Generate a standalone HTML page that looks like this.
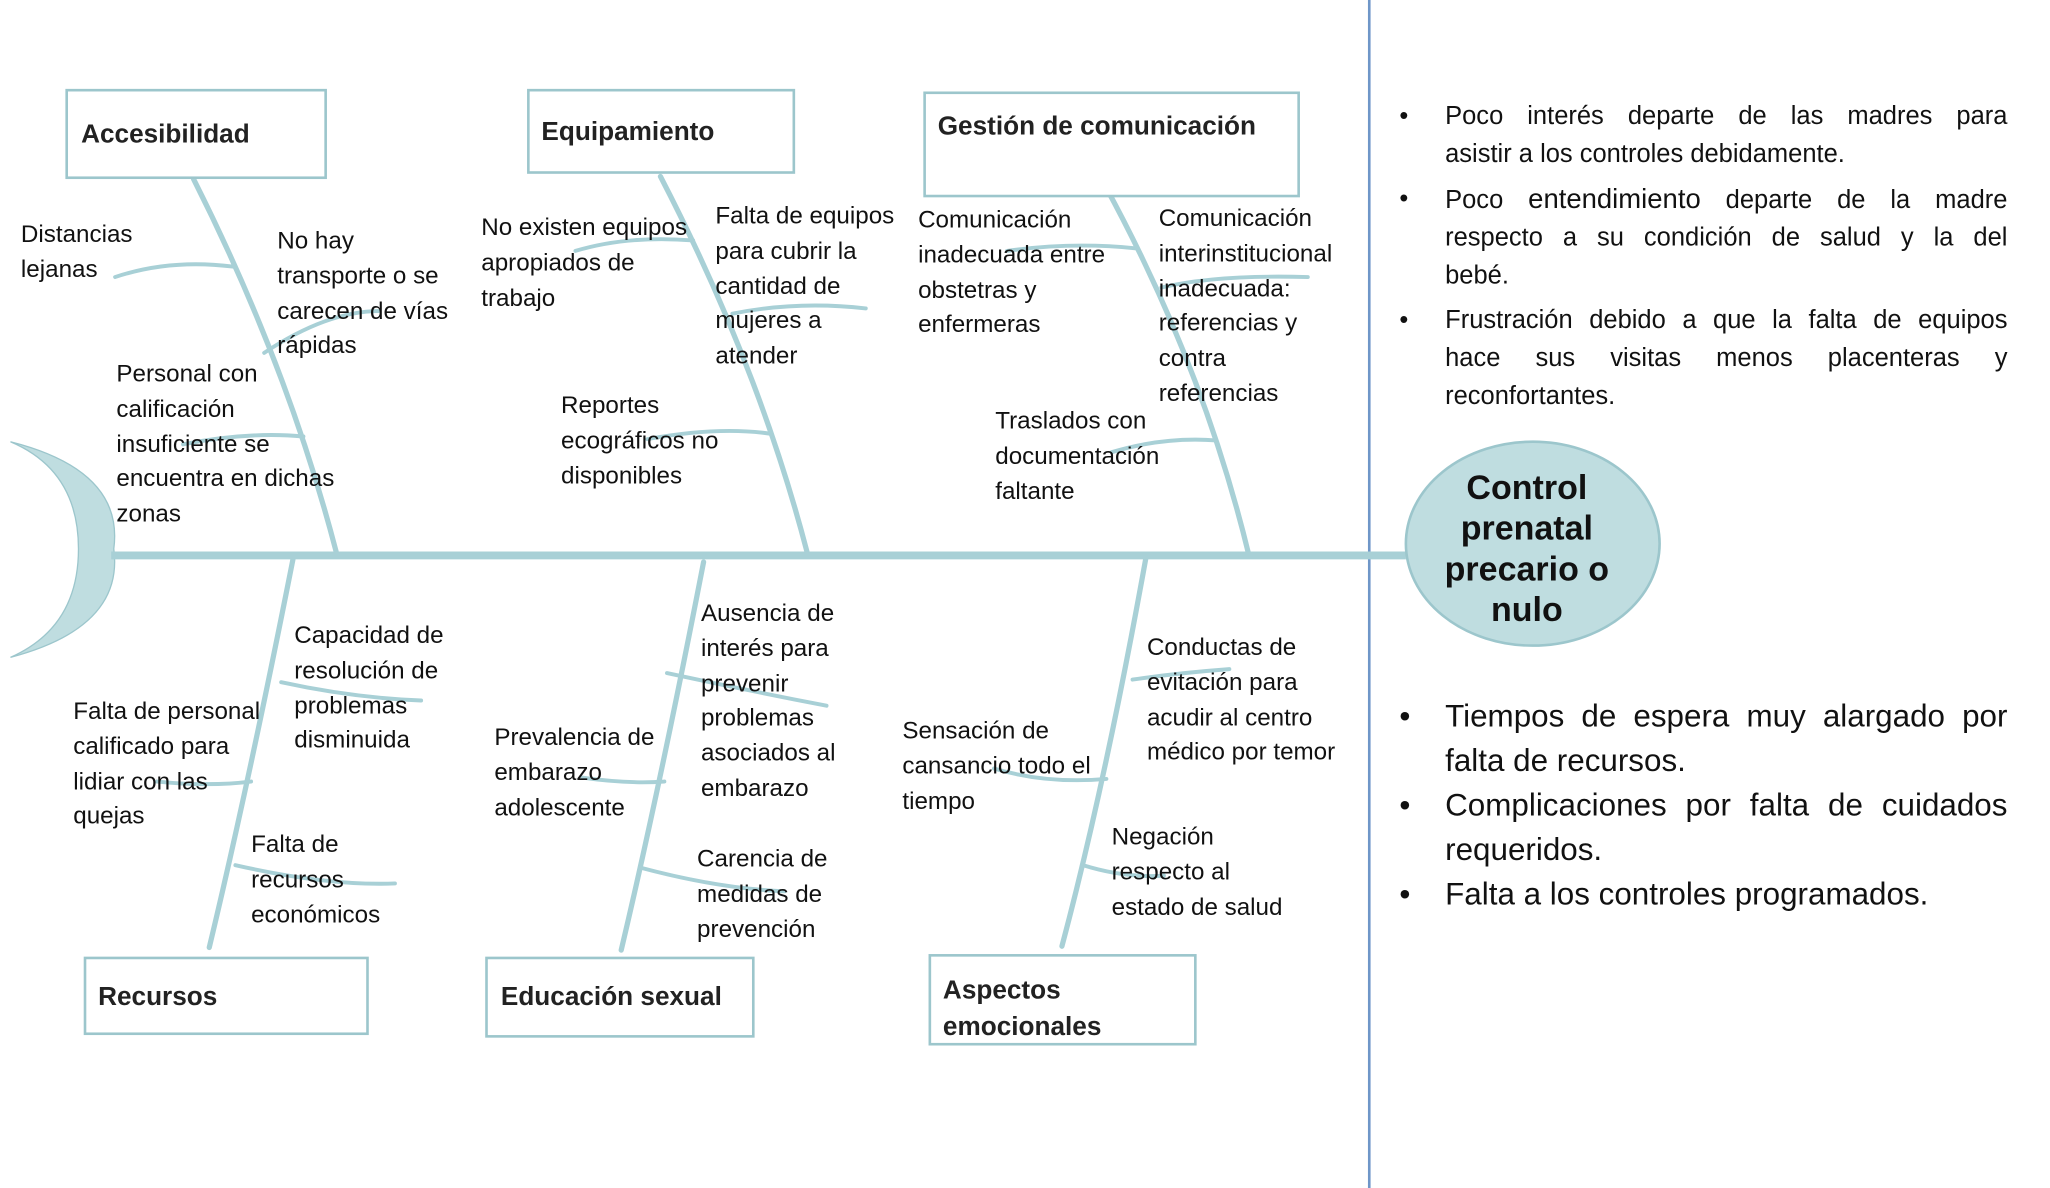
<!DOCTYPE html>
<html><head><meta charset="utf-8"><style>
html,body{margin:0;padding:0;background:#fff;overflow:hidden}
#wrap{position:absolute;left:0;top:0;width:1568px;height:909px;transform:scale(1.3078,1.3069);transform-origin:0 0;font-family:"Liberation Sans",sans-serif;color:#111}
.t{position:absolute;font-size:18.5px;line-height:26.8px;white-space:nowrap}
.b{position:absolute;font-size:20px;font-weight:bold;color:#222}
.r{position:absolute;left:1070px;width:465px;font-size:19.5px;line-height:29px}
.r>div{position:relative;padding-left:35px}
.r>div:before{content:"•";position:absolute;left:0}
.j{text-align:justify;text-align-last:justify;white-space:nowrap}
.r2{font-size:24px;line-height:34px}
.r2>div{text-align:justify}
</style></head><body><div id="wrap">
<svg width="1568" height="909" style="position:absolute;left:0;top:0">
<line x1="1047" y1="0" x2="1047" y2="909" stroke="#6f96c8" stroke-width="2"/>
<path d="M8,338 Q95,360 87,420 Q95,480 8,503 Q60,480 60,420 Q60,360 8,338Z" fill="#bfdde0" stroke="#9cc6cc"/>
<line x1="85" y1="425" x2="1075" y2="425" stroke="#a8d0d6" stroke-width="6"/>
<ellipse cx="1172" cy="416" rx="97" ry="78" fill="#bfdde0" stroke="#9cc6cc" stroke-width="2"/>
<g stroke="#a8d0d6" stroke-width="4" fill="none" stroke-linecap="round">
<path d="M148,137 Q220,280 257,422"/><path d="M505,135 Q580,280 617,422"/><path d="M845,142 Q920,280 955,425"/>
<path d="M224,428 Q190,600 160,725"/><path d="M538,430 Q505,600 475,727"/><path d="M876,428 Q845,600 812,724"/>
<g stroke-width="3">
<path d="M88,212 Q130,198 178,204"/><path d="M202,270 Q250,238 290,238"/><path d="M140,340 Q190,330 232,334"/>
<path d="M440,192 Q480,180 530,184"/><path d="M560,240 Q610,230 662,236"/><path d="M495,336 Q550,326 590,332"/>
<path d="M770,192 Q820,185 868,190"/><path d="M888,220 Q930,210 1000,212"/><path d="M850,346 Q890,334 930,337"/>
<path d="M215,522 Q270,534 322,536"/><path d="M120,598 Q160,602 192,598"/><path d="M180,662 Q250,678 302,676"/>
<path d="M445,595 Q480,600 508,598"/><path d="M510,515 Q570,528 632,540"/><path d="M490,664 Q550,680 600,682"/>
<path d="M760,588 Q800,600 846,596"/><path d="M866,520 Q900,515 940,512"/><path d="M828,662 Q860,672 890,670"/>
</g></g>
<g fill="#fff" stroke="#9cc6cc" stroke-width="2">
<rect x="51" y="69" width="198" height="67"/><rect x="404" y="69" width="203" height="63"/><rect x="707" y="71" width="286" height="79"/>
<rect x="65" y="733" width="216" height="58"/><rect x="372" y="733" width="204" height="60"/><rect x="711" y="731" width="203" height="68"/>
</g></svg>
<div class="b" style="left:62px;top:92px">Accesibilidad</div>
<div class="b" style="left:414px;top:90px">Equipamiento</div>
<div class="b" style="left:717px;top:86px">Gestión de comunicación</div>
<div class="b" style="left:75px;top:752px">Recursos</div>
<div class="b" style="left:383px;top:752px">Educación sexual</div>
<div class="b" style="left:721px;top:744px;line-height:28px">Aspectos<br>emocionales</div>
<div class="t" style="left:16px;top:166px">Distancias<br>lejanas</div>
<div class="t" style="left:212px;top:171px">No hay<br>transporte o se<br>carecen de vías<br>rápidas</div>
<div class="t" style="left:89px;top:273px">Personal con<br>calificación<br>insuficiente se<br>encuentra en dichas<br>zonas</div>
<div class="t" style="left:368px;top:161px">No existen equipos<br>apropiados de<br>trabajo</div>
<div class="t" style="left:547px;top:152px">Falta de equipos<br>para cubrir la<br>cantidad de<br>mujeres a<br>atender</div>
<div class="t" style="left:429px;top:297px">Reportes<br>ecográficos no<br>disponibles</div>
<div class="t" style="left:702px;top:155px">Comunicación<br>inadecuada entre<br>obstetras y<br>enfermeras</div>
<div class="t" style="left:886px;top:154px">Comunicación<br>interinstitucional<br>inadecuada:<br>referencias y<br>contra<br>referencias</div>
<div class="t" style="left:761px;top:309px">Traslados con<br>documentación<br>faltante</div>
<div class="t" style="left:225px;top:473px">Capacidad de<br>resolución de<br>problemas<br>disminuida</div>
<div class="t" style="left:56px;top:531px">Falta de personal<br>calificado para<br>lidiar con las<br>quejas</div>
<div class="t" style="left:192px;top:633px">Falta de<br>recursos<br>económicos</div>
<div class="t" style="left:536px;top:456px">Ausencia de<br>interés para<br>prevenir<br>problemas<br>asociados al<br>embarazo</div>
<div class="t" style="left:378px;top:551px">Prevalencia de<br>embarazo<br>adolescente</div>
<div class="t" style="left:533px;top:644px">Carencia de<br>medidas de<br>prevención</div>
<div class="t" style="left:877px;top:482px">Conductas de<br>evitación para<br>acudir al centro<br>médico por temor</div>
<div class="t" style="left:690px;top:546px">Sensación de<br>cansancio todo el<br>tiempo</div>
<div class="t" style="left:850px;top:627px">Negación<br>respecto al<br>estado de salud</div>
<div style="position:absolute;left:1085px;top:358px;width:165px;text-align:center;font-size:26px;font-weight:bold;line-height:31px;color:#111">Control prenatal precario o nulo</div>
<div class="r" style="top:75px">
<div style="margin-bottom:5px"><div class="j">Poco interés departe de las madres para</div><div>asistir a los controles debidamente.</div></div>
<div style="margin-bottom:5px"><div class="j">Poco <span style="font-size:21px">entendimiento</span> departe de la madre</div><div class="j">respecto a su condición de salud y la del</div><div>bebé.</div></div>
<div><div class="j">Frustración debido a que la falta de equipos</div><div class="j">hace sus visitas menos placenteras y</div><div>reconfortantes.</div></div>
</div>
<div class="r r2" style="top:532px">
<div>Tiempos de espera muy alargado por falta de recursos.</div>
<div>Complicaciones por falta de cuidados requeridos.</div>
<div>Falta a los controles programados.</div>
</div>
</div></body></html>
